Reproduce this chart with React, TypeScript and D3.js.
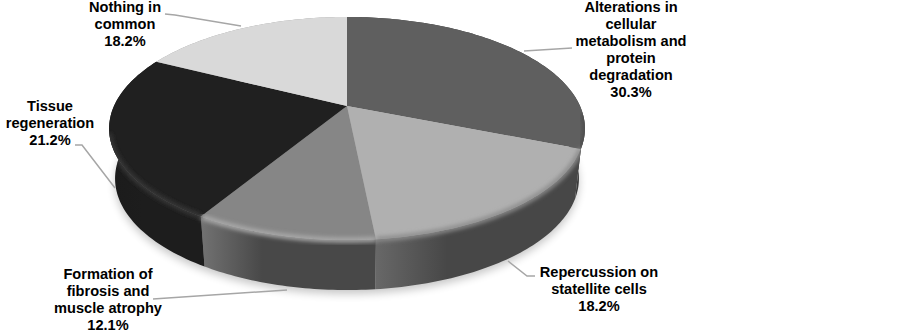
import React from "react";
import * as d3 from "d3";

const categories = [
  ["Alterations in", "cellular", "metabolism and", "protein", "degradation"],
  ["Repercussion on", "statellite cells"],
  ["Formation of", "fibrosis and", "muscle atrophy"],
  ["Tissue", "regeneration"],
  ["Nothing in", "common"],
];
const shares = [30.3, 18.2, 12.1, 21.2, 18.2];

const topColors = ["#5f5f5f", "#b0b0b0", "#868686", "#202020", "#d9d9d9"];
const sideStops = [
  ["#2e2e2e", "#3a3a3a"],
  ["#686868", "#474747"],
  ["#727272", "#484848"],
  ["#1b1b1b", "#1d1d1d"],
  ["#999999", "#999999"],
];
const rimColors = ["#4c4c4c", "#8c8c8c", "#aaaaaa", "#383838", "#d9d9d9"];

// label anchor and leader line for each slice
const labelPos = [
  { x: 631, y: 12 },
  { x: 599, y: 277 },
  { x: 108, y: 279 },
  { x: 50, y: 111 },
  { x: 125, y: 12 },
];
const leaders: [number, number][][] = [
  [[524, 51], [572, 48]],
  [[508, 261], [527, 276], [535, 276]],
  [[287, 290], [153, 299]],
  [[115, 188], [82, 145], [75, 145]],
  [[241, 26], [175, 15], [165, 14]],
];

const width = 902;
const height = 333;

// the disc is a circle seen in perspective
const cx = 347;
const cy = 106;
const radiusX = 233;
const radiusY = 107;
const tilt = 0.2018;
const depth = 50;
const bottomScale = 0.975;

// the 3D view squeezes some slices a bit: pie angle -> angle drawn, in degrees
const viewAngle = d3
  .scaleLinear()
  .domain([0, 109.1, 174.6, 218.2, 294.5, 360])
  .range([0, 111.8, 174.3, 211.3, 296.8, 360]);

const project = (angle: number, drop = 0): [number, number] => {
  const a = (viewAngle((angle * 180) / Math.PI) * Math.PI) / 180;
  const u = Math.sin(a);
  const v = -Math.cos(a);
  const w = 1 - tilt * v;
  const x = (radiusX * u) / w;
  const y = (radiusY * v) / w;
  return drop ? [cx + x * bottomScale, cy + y + drop] : [cx + x, cy + y];
};

const sample = (a0: number, a1: number) => {
  const n = Math.max(2, Math.ceil((a1 - a0) / 0.02));
  return d3.range(n + 1).map((i) => a0 + ((a1 - a0) * i) / n);
};

const line = d3.line();

export default function App() {
  const slices = d3.pie<number>().sort(null).value((d) => d)(shares);
  const fullTop = line(sample(0, Math.PI * 2).map((a) => project(a)))!;
  const fullBottom = line(sample(0, Math.PI * 2).map((a) => project(a, depth)))!;
  const body = (a0: number, a1: number) =>
    line([
      ...sample(a0, a1).map((a) => project(a)),
      ...sample(a0, a1).reverse().map((a) => project(a, depth)),
    ])! + "Z";

  return (
    <svg
      width={width}
      height={height}
      style={{ position: "absolute", left: 0, top: 0, display: "block" }}
      fontFamily="'Liberation Sans', Arial, sans-serif"
    >
      <defs>
        <filter id="shadow" x="-10%" y="-10%" width="120%" height="130%">
          <feGaussianBlur stdDeviation="4" />
        </filter>
        <filter id="soft" x="-10%" y="-10%" width="120%" height="130%">
          <feGaussianBlur stdDeviation="2.2" />
        </filter>
        <clipPath id="discClip">
          <path d={fullTop} />
          {slices.map((s, i) => (
            <path key={i} d={body(s.startAngle, s.endAngle)} />
          ))}
        </clipPath>
        {sideStops.map((stops, i) => (
          <linearGradient key={i} id={`side${i}`} x1="0" x2="1" y1="0" y2="0">
            <stop offset="0" stopColor={stops[0]} />
            <stop offset="0.35" stopColor={stops[1]} />
            <stop offset="1" stopColor={stops[1]} />
          </linearGradient>
        ))}
      </defs>

      <path
        d={fullBottom}
        transform="translate(0 4)"
        fill="#000"
        opacity={0.22}
        filter="url(#shadow)"
      />

      {slices.map((s, i) => (
        <path key={i} d={body(s.startAngle, s.endAngle)} fill={`url(#side${i})`} />
      ))}

      {slices.map((s, i) => (
        <path
          key={i}
          d={
            line([[cx, cy], ...sample(s.startAngle, s.endAngle).map((a) => project(a))])! + "Z"
          }
          fill={topColors[i]}
        />
      ))}

      {/* soft bevel along the front rim */}
      <g clipPath="url(#discClip)">
        {slices.map((s, i) => {
          const a0 = Math.max(s.startAngle, 1.6);
          const a1 = Math.min(s.endAngle, 4.5);
          if (a1 <= a0) return null;
          return (
            <path
              key={i}
              d={line(sample(a0, a1).map((a) => project(a)))!}
              fill="none"
              stroke={rimColors[i]}
              strokeWidth={5}
              filter="url(#soft)"
            />
          );
        })}
      </g>

      {leaders.map((pts, i) => (
        <path key={i} d={line(pts)!} fill="none" stroke="#a6a6a6" strokeWidth={1.5} />
      ))}

      {categories.map((lines, i) => (
        <text
          key={i}
          x={labelPos[i].x}
          y={labelPos[i].y}
          textAnchor="middle"
          fontSize={14.6}
          fontWeight="bold"
          fill="#000"
        >
          {[...lines, `${d3.format(".1f")(shares[i])}%`].map((t, j) => (
            <tspan key={j} x={labelPos[i].x} y={labelPos[i].y + j * 17}>
              {t}
            </tspan>
          ))}
        </text>
      ))}
    </svg>
  );
}
